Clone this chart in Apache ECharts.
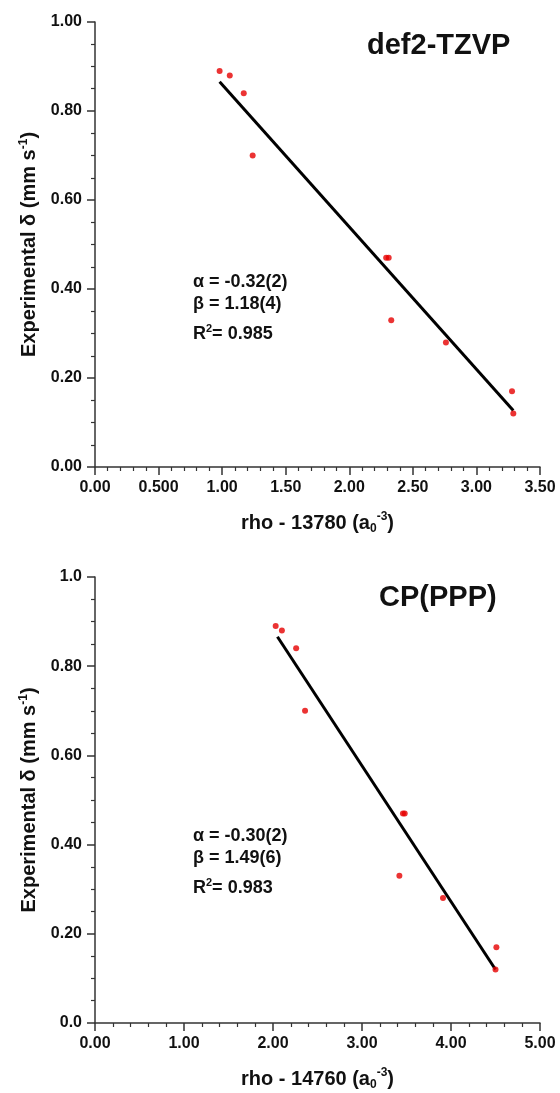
<!DOCTYPE html>
<html>
<head>
<meta charset="utf-8">
<script src="https://cdn.jsdelivr.net/npm/echarts@6/dist/echarts.min.js"></script>
<style>
  html, body { margin: 0; padding: 0; background: #fff; }
  #main { width: 560px; height: 1093px; }
</style>
</head>
<body>
<div id="main"></div>
<script>
// top panel: def2-TZVP
const topX = [0.98, 1.06, 1.17, 1.24, 2.29, 2.31, 2.33, 2.76, 3.28, 3.29];
const topY = [0.89, 0.88, 0.84, 0.70, 0.47, 0.47, 0.33, 0.28, 0.17, 0.12];
const topFitX = [0.98, 3.29];
const topFitY = [0.866, 0.127];
const topXTicks = ['0.00', '0.500', '1.00', '1.50', '2.00', '2.50', '3.00', '3.50'];
const topYTicks = ['0.00', '0.20', '0.40', '0.60', '0.80', '1.00'];

// bottom panel: CP(PPP)
const botX = [2.03, 2.10, 2.26, 2.36, 3.46, 3.48, 3.42, 3.91, 4.51, 4.50];
const botY = [0.89, 0.88, 0.84, 0.70, 0.47, 0.47, 0.33, 0.28, 0.17, 0.12];
const botFitX = [2.05, 4.50];
const botFitY = [0.866, 0.12];
const botXTicks = ['0.00', '1.00', '2.00', '3.00', '4.00', '5.00'];
const botYTicks = ['0.0', '0.20', '0.40', '0.60', '0.80', '1.0'];

const FONT = "'Liberation Sans', Arial, sans-serif";
const INK = '#111';
const AXIS = '#333';

const chart = echarts.init(document.getElementById('main'), null, { renderer: 'canvas' });

function pairs(xs, ys) {
    return xs.map((x, i) => [x, ys[i]]);
}

// shared look for both axes, Origin style ticks
function axisBase(interval, labels, minorSplit) {
    return {
        min: 0,
        max: interval * (labels.length - 1),
        interval: interval,
        axisLine: { show: true, onZero: false, lineStyle: { color: AXIS, width: 1.5 } },
        axisTick: { show: true, inside: false, length: 8, lineStyle: { color: AXIS, width: 1.5 } },
        minorTick: { show: true, splitNumber: minorSplit, length: 4, lineStyle: { color: AXIS, width: 1.2 } },
        splitLine: { show: false },
        axisLabel: {
            color: INK, fontFamily: FONT, fontWeight: 'bold', fontSize: 16, margin: 13,
            formatter: function (v) { return labels[Math.round(v / interval)]; }
        },
        nameTextStyle: { color: INK, fontFamily: FONT, fontWeight: 'bold', fontSize: 20 },
        nameLocation: 'middle'
    };
}

const richName = {
    b: { fontFamily: FONT, fontWeight: 'bold', fontSize: 20, color: INK, lineHeight: 24, verticalAlign: 'middle' },
    sup: { fontFamily: FONT, fontWeight: 'bold', fontSize: 12, color: INK, lineHeight: 12, verticalAlign: 'top' },
    sub: { fontFamily: FONT, fontWeight: 'bold', fontSize: 12, color: INK, lineHeight: 12, verticalAlign: 'bottom' }
};

const yName = '{b|Experimental δ (mm s}{sup|-1}{b|)}';

function xAxisFor(gridIndex, interval, labels, minorSplit, offsetNum) {
    const a = axisBase(interval, labels, minorSplit);
    a.type = 'value';
    a.gridIndex = gridIndex;
    a.name = '{b|rho - ' + offsetNum + ' (a}{sub|0}{sup|-3}{b|)}';
    a.nameGap = 44;
    a.nameTextStyle.rich = richName;
    return a;
}

function yAxisFor(gridIndex, labels) {
    const a = axisBase(0.2, labels, 4);
    a.type = 'value';
    a.gridIndex = gridIndex;
    a.name = yName;
    a.nameGap = 53;
    a.nameTextStyle.rich = richName;
    return a;
}

const annStyle = { fontFamily: FONT, fontWeight: 'bold', fontSize: 18, fill: INK };

function annotation(x, y, alpha, beta, r2) {
    return [
        { type: 'text', left: x, top: y, style: Object.assign({ text: 'α = ' + alpha }, annStyle) },
        { type: 'text', left: x, top: y + 22, style: Object.assign({ text: 'β = ' + beta }, annStyle) },
        {
            type: 'text', left: x, top: y + 50,
            style: {
                text: '{b|R}{s|2}{b|= ' + r2 + '}',
                rich: {
                    b: { fontFamily: FONT, fontWeight: 'bold', fontSize: 18, fill: INK, lineHeight: 20, verticalAlign: 'bottom' },
                    s: { fontFamily: FONT, fontWeight: 'bold', fontSize: 11, fill: INK, lineHeight: 10, verticalAlign: 'top' }
                }
            }
        }
    ];
}

const option = {
    backgroundColor: '#fff',
    animation: false,
    grid: [
        { left: 95, top: 22, width: 445, height: 445 },
        { left: 95, top: 577, width: 445, height: 446 }
    ],
    xAxis: [
        xAxisFor(0, 0.5, topXTicks, 5, '13780'),
        xAxisFor(1, 1.0, botXTicks, 5, '14760')
    ],
    yAxis: [
        yAxisFor(0, topYTicks),
        yAxisFor(1, botYTicks)
    ],
    graphic: [
        { type: 'text', left: 367, top: 31, style: { text: 'def2-TZVP', fontFamily: FONT, fontWeight: 'bold', fontSize: 29, fill: INK } },
        { type: 'text', left: 379, top: 583, style: { text: 'CP(PPP)', fontFamily: FONT, fontWeight: 'bold', fontSize: 29, fill: INK } }
    ].concat(
        annotation(193, 273, '-0.32(2)', '1.18(4)', '0.985'),
        annotation(193, 827, '-0.30(2)', '1.49(6)', '0.983')
    ),
    series: [
        {
            type: 'line', xAxisIndex: 0, yAxisIndex: 0,
            data: pairs(topFitX, topFitY), showSymbol: false,
            lineStyle: { color: '#000', width: 3 }, z: 2
        },
        {
            type: 'scatter', xAxisIndex: 0, yAxisIndex: 0,
            data: pairs(topX, topY), symbolSize: 6,
            itemStyle: { color: '#e60000' }, z: 3
        },
        {
            type: 'line', xAxisIndex: 1, yAxisIndex: 1,
            data: pairs(botFitX, botFitY), showSymbol: false,
            lineStyle: { color: '#000', width: 3 }, z: 2
        },
        {
            type: 'scatter', xAxisIndex: 1, yAxisIndex: 1,
            data: pairs(botX, botY), symbolSize: 6,
            itemStyle: { color: '#e60000' }, z: 3
        }
    ]
};

chart.setOption(option);
</script>
</body>
</html>
